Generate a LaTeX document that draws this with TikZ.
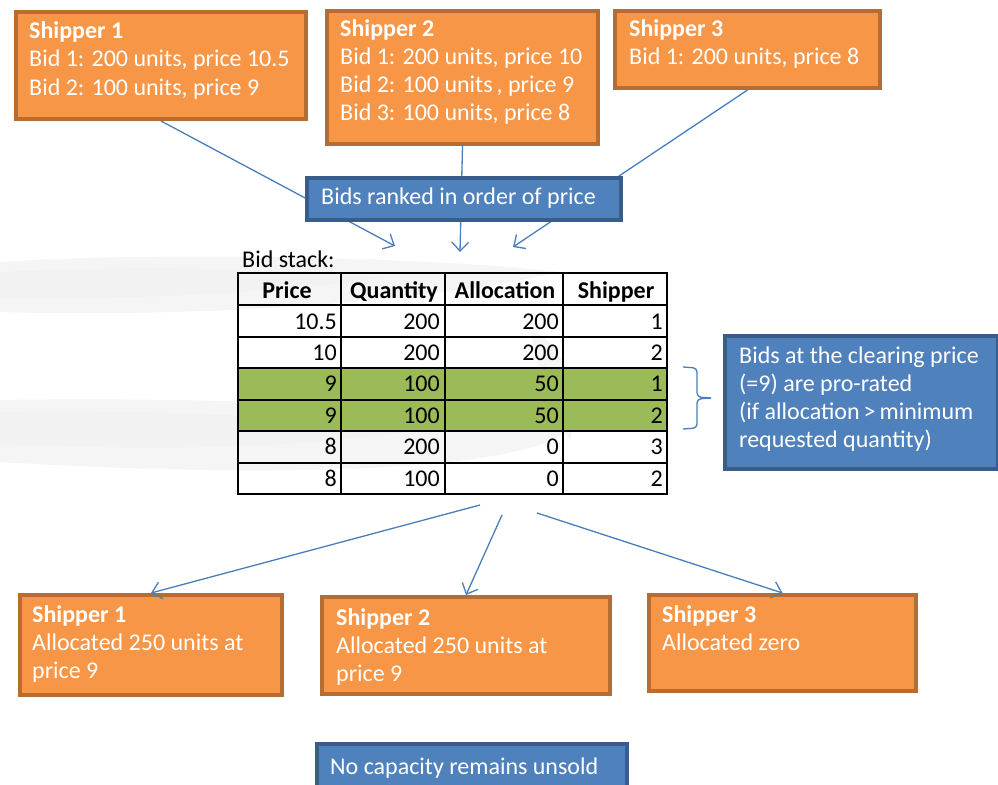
\documentclass[tikz,border=0pt]{standalone}
\usepackage{fontspec}
\setmainfont{Carlito}
\usetikzlibrary{arrows.meta,calc}
\definecolor{ofill}{HTML}{F79646}
\definecolor{oline}{HTML}{B66D31}
\definecolor{bfill}{HTML}{4F81BD}
\definecolor{bline}{HTML}{385D8A}
\definecolor{gfill}{HTML}{9BBB59}
\definecolor{arr}{HTML}{4A7EBB}
\newcommand{\mylines}[1]{\begin{tabular}[t]{@{}l@{}}#1\end{tabular}}
\tikzset{
  obox/.style={draw=oline, fill=ofill, line width=4pt, anchor=north west, inner sep=0pt},
  bbox/.style={draw=bline, fill=bfill, line width=3.5pt, anchor=north west, inner sep=0pt},
  wtext/.style={text=white, anchor=base west, inner sep=0pt,
     font=\fontsize{24}{28}\selectfont},
  conn/.style={draw=arr, line width=1.3pt, -{Straight Barb[length=9pt,width=17pt,line width=1.3pt]}},
  cell/.style={anchor=base east, inner sep=0pt, font=\fontsize{24}{26}\selectfont},
  hcell/.style={anchor=base, inner sep=0pt, font=\fontsize{24}{26}\selectfont\bfseries},
}
\begin{document}
\begin{tikzpicture}[x=1pt,y=-1pt]
\useasboundingbox (0,0) rectangle (998,784);
% faint brush background
\fill[black!4] (0,262) .. controls (150,252) and (420,256) .. (560,272)
  .. controls (440,300) and (220,318) .. (0,312) -- cycle;
\fill[black!5] (0,272) .. controls (120,266) and (300,268) .. (380,278)
  .. controls (260,294) and (120,300) .. (0,298) -- cycle;
\fill[black!4] (0,400) .. controls (200,397) and (420,405) .. (575,420)
  .. controls (560,470) and (300,480) .. (0,462) -- cycle;
\fill[black!5] (0,412) .. controls (150,410) and (300,416) .. (430,428)
  .. controls (300,450) and (150,450) .. (0,444) -- cycle;
\fill[black!4] (530,330) .. controls (560,340) and (585,390) .. (570,440)
  .. controls (555,420) and (540,380) .. (530,330) -- cycle;

% top shipper boxes
\node[obox, minimum width=290pt, minimum height=107pt] (s1) at (14,10) {};
\node[obox, minimum width=271pt, minimum height=133pt] (s2) at (325,9) {};
\node[obox, minimum width=265pt, minimum height=77pt] (s3) at (613,9) {};
\node[wtext] (s1t) at (29,39) {\mylines{\textbf{Shipper 1}\\Bid 1: 200 units, price 10.5\\Bid 2: 100 units, price 9}};
\node[wtext] (s2t) at (340,37) {\mylines{\textbf{Shipper 2}\\Bid 1: 200 units, price 10\\Bid 2: 100 units\,, price 9\\Bid 3: 100 units, price 8}};
\node[wtext] (s3t) at (629,37) {\mylines{\textbf{Shipper 3}\\Bid 1: 200 units, price 8}};

% arrow end points near the bid stack
\coordinate (e1) at (395,246);
\coordinate (e2) at (460,252);
\coordinate (e3) at (513,247);
\draw[conn] (s1.south) -- (e1);
\draw[conn] (s2.south) -- (e2);
\draw[conn] (s3.south) -- (e3);

% ranking box
\node[bbox, minimum width=314pt, minimum height=42pt] (rank) at (305,176) {};
\node[wtext] (rankt) at (321,204) {Bids ranked in order of price};

% bid stack table
\node[anchor=base west, inner sep=0pt, font=\fontsize{24}{26}\selectfont] (bs) at (242,267) {Bid stack:};
\fill[gfill] (238,368) rectangle (667,431);
\draw[line width=2pt] (238,273) rectangle (667,494);
\foreach \y in {305,336.5,368,399.5,431,462.5} \draw[line width=2pt] (238,\y) -- (667,\y);
\foreach \x in {341,445,563} \draw[line width=2pt] (\x,273) -- (\x,494);
\node[hcell] (h1) at (287,298) {Price};
\node[hcell] (h2) at (394,298) {Quantity};
\node[hcell] (h3) at (505,298) {Allocation};
\node[hcell] (h4) at (616,298) {Shipper};
\foreach \r/\p/\q/\a/\s in {1/10.5/200/200/1, 2/10/200/200/2, 3/9/100/50/1, 4/9/100/50/2, 5/8/200/0/3, 6/8/100/0/2} {
  \pgfmathsetmacro\yb{329+(\r-1)*31.4}
  \node[cell] (p\r) at (337,\yb) {\p};
  \node[cell] (q\r) at (440,\yb) {\q};
  \node[cell] (a\r) at (559,\yb) {\a};
  \node[cell] (k\r) at (663,\yb) {\s};
}

% brace
\draw[arr, line width=1.3pt, rounded corners=4pt] (683,367) -- (697,368) -- (697,397) -- (711,398);
\draw[arr, line width=1.3pt, rounded corners=4pt] (711,398) -- (697,399) -- (697,428) -- (683,429);

% note box
\node[bbox, minimum width=273pt, minimum height=133pt] (note) at (723,334) {};
\node[wtext] (notet) at (739,363) {\mylines{Bids at the clearing price\\(=9) are pro-rated\\(if allocation\,>\,minimum\\requested quantity)}};

% bottom shipper boxes
\node[obox, minimum width=262pt, minimum height=100pt] (b1) at (18,593) {};
\node[obox, minimum width=288pt, minimum height=97pt] (b2) at (320,595) {};
\node[obox, minimum width=267pt, minimum height=96pt] (b3) at (647,593) {};
\node[wtext] (b1t) at (32,622) {\mylines{\textbf{Shipper 1}\\Allocated 250 units at\\price 9}};
\node[wtext] (b2t) at (336,625) {\mylines{\textbf{Shipper 2}\\Allocated 250 units at\\price 9}};
\node[wtext] (b3t) at (662,622) {\mylines{\textbf{Shipper 3}\\Allocated zero}};

\coordinate (f1) at (480,505);
\coordinate (f2) at (502,515);
\coordinate (f3) at (537,513);
\draw[conn] (f1) -- (b1.north);
\draw[conn] (f2) -- (b2.north);
\draw[conn] (f3) -- (b3.north);

% bottom note
\node[bbox, minimum width=310pt, minimum height=50pt] (unsold) at (315,742) {};
\node[wtext] (unsoldt) at (330,774) {No capacity remains unsold};
\end{tikzpicture}
\end{document}
